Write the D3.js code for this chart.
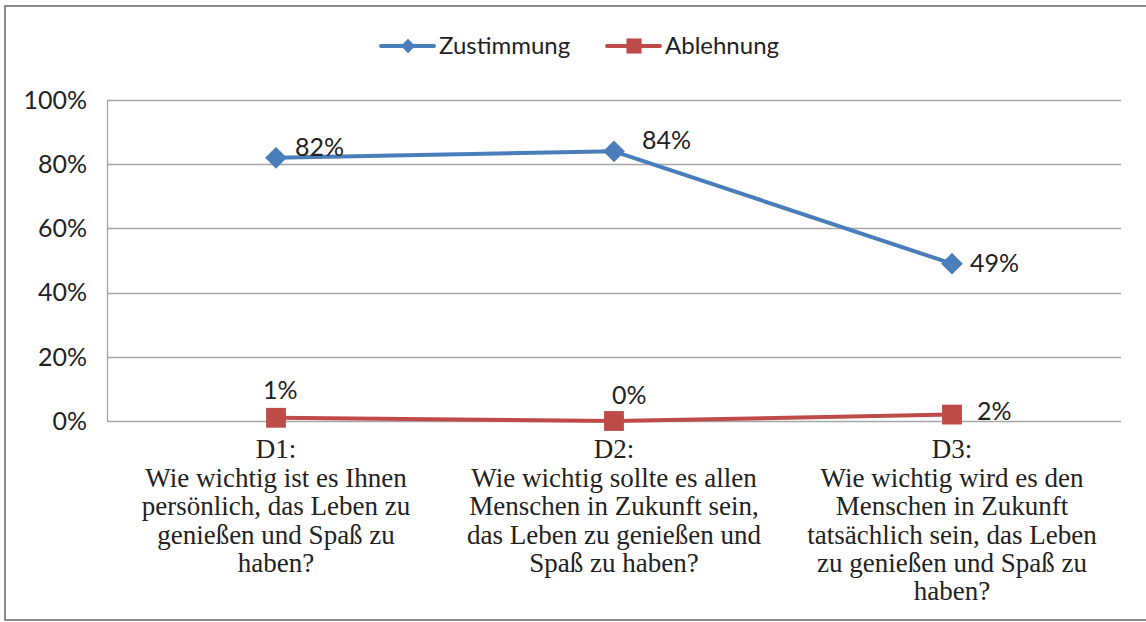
<!DOCTYPE html>
<html>
<head>
<meta charset="utf-8">
<script src="https://cdn.jsdelivr.net/npm/d3@7"></script>
<style>
  body { margin: 0; background: #fff; }
  svg { display: block; }
</style>
</head>
<body>
<div id="chart"></div>
<script>
var categories = ["D1", "D2", "D3"];
var categoryText = [
    ["D1:", "Wie wichtig ist es Ihnen", "persönlich, das Leben zu", "genießen und Spaß zu", "haben?"],
    ["D2:", "Wie wichtig sollte es allen", "Menschen in Zukunft sein,", "das Leben zu genießen und", "Spaß zu haben?"],
    ["D3:", "Wie wichtig wird es den", "Menschen in Zukunft", "tatsächlich sein, das Leben", "zu genießen und Spaß zu", "haben?"]
];
var zustimmung = [0.82, 0.84, 0.49];
var ablehnung = [0.01, 0.00, 0.02];
var yTicks = [0, 0.2, 0.4, 0.6, 0.8, 1.0];

// label offsets (px) relative to each point
var zustLabelPos = [[19, -11], [28, -11], [18, 0]];
var ablLabelPos = [[-13, -28], [-2, -26], [25, -3]];

var width = 1146, height = 622;
var margin = {top: 100, left: 107, right: 25, bottom: 201};

var svg = d3.select("#chart").append("svg")
    .attr("width", width)
    .attr("height", height);

svg.append("rect")
    .attr("x", 5).attr("y", 6)
    .attr("width", 1150).attr("height", 614)
    .attr("fill", "none")
    .attr("stroke", "#8c8c8c")
    .attr("stroke-width", 2);

var x = d3.scaleBand()
    .domain(categories)
    .range([margin.left, width - margin.right]);

var y = d3.scaleLinear()
    .domain([0, 1])
    .range([height - margin.bottom, margin.top]);

// gridlines
svg.append("g")
    .selectAll("line")
    .data(yTicks)
    .enter().append("line")
    .attr("x1", margin.left).attr("x2", width - margin.right)
    .attr("y1", function (d) { return Math.round(y(d)) + 0.5; })
    .attr("y2", function (d) { return Math.round(y(d)) + 0.5; })
    .attr("stroke", "#a6a6a6")
    .attr("stroke-width", 1.3);

svg.append("line")
    .attr("x1", margin.left + 0.5).attr("x2", margin.left + 0.5)
    .attr("y1", y(1)).attr("y2", y(0))
    .attr("stroke", "#a6a6a6")
    .attr("stroke-width", 1.3);

// y axis labels
svg.append("g")
    .selectAll("text")
    .data(yTicks)
    .enter().append("text")
    .attr("x", 87)
    .attr("y", function (d) { return y(d); })
    .attr("dy", "0.35em")
    .attr("text-anchor", "end")
    .attr("font-family", "Lato, sans-serif")
    .attr("font-size", 25)
    .attr("fill", "#222")
    .text(function (d) { return d3.format(".0%")(d); });

// x axis labels
var xl = svg.append("g")
    .selectAll("text")
    .data(categories)
    .enter().append("text")
    .attr("text-anchor", "middle")
    .attr("font-family", "'Liberation Serif', serif")
    .attr("font-size", 27)
    .attr("fill", "#222");

xl.each(function (d, i) {
    var t = d3.select(this);
    categoryText[i].forEach(function (line, j) {
        t.append("tspan")
            .attr("x", x(d) + x.bandwidth() / 2)
            .attr("y", 449 + j * 28.4)
            .attr("dy", "0.35em")
            .text(line);
    });
});

var cx = function (d, i) { return x(categories[i]) + x.bandwidth() / 2; };

var line = d3.line()
    .x(function (d, i) { return cx(d, i); })
    .y(function (d) { return y(d); });

var series = [
    {name: "Zustimmung", values: zustimmung, color: "#4a7ebb", marker: "diamond", labels: zustLabelPos},
    {name: "Ablehnung", values: ablehnung, color: "#be4b48", marker: "square", labels: ablLabelPos}
];

var symbolPath = function (type, size) {
    return d3.symbol().type(type === "diamond" ? d3.symbolDiamond2 : d3.symbolSquare2).size(size)();
};

series.forEach(function (s) {
    svg.append("path")
        .datum(s.values)
        .attr("d", line)
        .attr("fill", "none")
        .attr("stroke", s.color)
        .attr("stroke-width", 4)
        .attr("stroke-linejoin", "round");

    svg.append("g")
        .selectAll("path")
        .data(s.values)
        .enter().append("path")
        .attr("transform", function (d, i) { return "translate(" + cx(d, i) + "," + y(d) + ")"; })
        .attr("d", s.marker === "diamond" ? symbolPath("diamond", 300) : symbolPath("square", 500))
        .attr("fill", s.color);

    svg.append("g")
        .selectAll("text")
        .data(s.values)
        .enter().append("text")
        .attr("x", function (d, i) { return cx(d, i) + s.labels[i][0]; })
        .attr("y", function (d, i) { return y(d) + s.labels[i][1]; })
        .attr("dy", "0.35em")
        .attr("font-family", "Lato, sans-serif")
        .attr("font-size", 25)
        .attr("fill", "#222")
        .text(function (d) { return d3.format(".0%")(d); });
});

// legend
var legend = svg.append("g")
    .selectAll("g")
    .data(series)
    .enter().append("g")
    .attr("transform", function (d, i) { return "translate(" + (381 + i * 226) + ",46)"; });

legend.append("line")
    .attr("x1", 0).attr("x2", 53)
    .attr("stroke", function (d) { return d.color; })
    .attr("stroke-width", 4)
    .attr("stroke-linecap", "round");

legend.append("path")
    .attr("transform", "translate(27,0)")
    .attr("d", function (d) { return d.marker === "diamond" ? symbolPath("diamond", 130) : symbolPath("square", 290); })
    .attr("fill", function (d) { return d.color; });

legend.append("text")
    .attr("x", 58)
    .attr("dy", "0.35em")
    .attr("font-family", "Lato, sans-serif")
    .attr("font-size", 24)
    .attr("fill", "#222")
    .text(function (d) { return d.name; });
</script>
</body>
</html>
